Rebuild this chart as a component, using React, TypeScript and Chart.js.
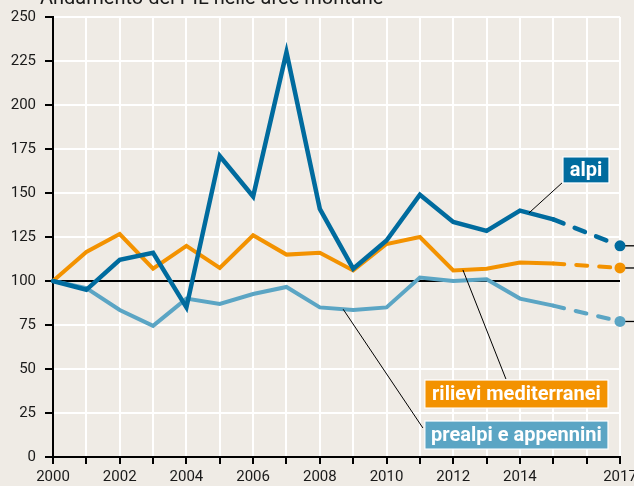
import React, { useEffect, useRef } from "react";
import { Chart, registerables } from "chart.js";

Chart.register(...registerables);

// ---- data ----
const years = [2000, 2001, 2002, 2003, 2004, 2005, 2006, 2007, 2008, 2009, 2010, 2011, 2012, 2013, 2014, 2015, 2017];
const alpi = [100, 95, 112, 116, 85, 171, 148, 230, 141, 107, 123, 149, 133.5, 128.5, 140, 135, 120];
const rilievi = [100, 116.5, 126.7, 107, 120, 107.4, 126, 115, 116, 106, 121, 125, 106, 107, 110.5, 110, 107.4];
const prealpi = [100, 96, 83.5, 74.5, 90, 87, 92.6, 96.6, 85, 83.5, 85, 102, 100, 101, 90, 86, 77];
const xLabelYears = [2000, 2002, 2004, 2006, 2008, 2010, 2012, 2014, 2017];
const seriesNames = ["alpi", "rilievi mediterranei", "prealpi e appennini"];
const titleText = "Andamento del PIL nelle aree montane";
const referenceValue = 100;

// ---- styles ----
const BG = "#EFEBE5";
const colors = ["#006B9E", "#F39200", "#5BA5C4"];
const widths = [4.5, 4, 4];
const TICK_FONT = "Roboto, sans-serif";

// label boxes in data coordinates (year, value)
const labelBoxes = [
  { series: 0, x0: 2015.29, x1: 2016.67, yTop: 170.5, yBottom: 155.7, from: 2014.27, to: [2015.26, 155.7] },
  { series: 1, x0: 2011.15, x1: 2016.64, yTop: 43.75, yBottom: 27.8, from: 2012.29, to: [2013.58, 44.3] },
  { series: 2, x0: 2011.15, x1: 2016.64, yTop: 20.45, yBottom: 4.5, from: 2008.7, to: [2011.09, 16.5] },
];

const seriesValues = [alpi, rilievi, prealpi];

function interp(vals: number[], yr: number): number {
  for (let i = 0; i < years.length - 1; i++) {
    if (yr >= years[i] && yr <= years[i + 1]) {
      const t = (yr - years[i]) / (years[i + 1] - years[i]);
      return vals[i] + t * (vals[i + 1] - vals[i]);
    }
  }
  return vals[vals.length - 1];
}

const decorPlugin = {
  id: "decor",
  beforeDraw(chart: any) {
    const { ctx, width, height } = chart;
    ctx.save();
    ctx.fillStyle = BG;
    ctx.fillRect(0, 0, width, height);
    ctx.restore();
  },
  beforeDatasetsDraw(chart: any) {
    const { ctx, chartArea, scales } = chart;
    const xs = scales.x;
    const ys = scales.y;
    ctx.save();
    ctx.strokeStyle = "#000";
    ctx.lineWidth = 1.8;
    ctx.beginPath();
    const y100 = ys.getPixelForValue(referenceValue);
    ctx.moveTo(chartArea.left, y100);
    ctx.lineTo(chartArea.right, y100);
    ctx.stroke();
    ctx.lineWidth = 1.3;
    seriesValues.forEach((vals) => {
      const last = vals.length - 1;
      const px = xs.getPixelForValue(years[last]);
      const py = ys.getPixelForValue(vals[last]);
      ctx.beginPath();
      ctx.moveTo(px, py);
      ctx.lineTo(chart.width, py);
      ctx.stroke();
    });
    ctx.restore();
  },
  afterDraw(chart: any) {
    const { ctx, scales } = chart;
    const xs = scales.x;
    const ys = scales.y;
    ctx.save();
    ctx.strokeStyle = "#000";
    ctx.lineWidth = 1;
    labelBoxes.forEach((b) => {
      const vals = seriesValues[b.series];
      ctx.beginPath();
      ctx.moveTo(xs.getPixelForValue(b.from), ys.getPixelForValue(interp(vals, b.from)));
      ctx.lineTo(xs.getPixelForValue(b.to[0]), ys.getPixelForValue(b.to[1]));
      ctx.stroke();
    });
    labelBoxes.forEach((b) => {
      const x0 = xs.getPixelForValue(b.x0);
      const x1 = xs.getPixelForValue(b.x1);
      const y0 = ys.getPixelForValue(b.yTop);
      const y1 = ys.getPixelForValue(b.yBottom);
      ctx.fillStyle = colors[b.series];
      ctx.fillRect(x0, y0, x1 - x0, y1 - y0);
      ctx.strokeStyle = "#ffffff";
      ctx.lineWidth = 1.2;
      ctx.strokeRect(x0, y0, x1 - x0, y1 - y0);
      ctx.fillStyle = "#ffffff";
      ctx.font = "bold 20px Roboto, sans-serif";
      ctx.textAlign = "center";
      ctx.textBaseline = "middle";
      ctx.fillText(seriesNames[b.series], (x0 + x1) / 2, (y0 + y1) / 2 + 1);
    });
    ctx.fillStyle = "#1a1a1a";
    ctx.font = "20px Roboto, sans-serif";
    ctx.textAlign = "left";
    ctx.textBaseline = "alphabetic";
    ctx.fillText(titleText, 40, 4);
    ctx.restore();
  },
};

export default function App() {
  const ref = useRef<HTMLCanvasElement | null>(null);
  useEffect(() => {
    if (!ref.current) return;
    const datasets = seriesValues.map((vals, i) => ({
      label: seriesNames[i],
      data: years.map((yr, j) => ({ x: yr, y: vals[j] })),
      borderColor: colors[i],
      backgroundColor: colors[i],
      borderWidth: widths[i],
      borderJoinStyle: "miter" as const,
      borderCapStyle: "round" as const,
      tension: 0,
      clip: false as const,
      pointRadius: (c: any) => (c.dataIndex === years.length - 1 ? 5.5 : 0),
      pointHoverRadius: 0,
      pointBorderWidth: 0,
      segment: {
        borderDash: (c: any) => (c.p1DataIndex === years.length - 1 ? [11, 12] : undefined),
      },
    }));
    const chart = new Chart(ref.current, {
      type: "line",
      data: { datasets },
      options: {
        animation: false,
        responsive: false,
        devicePixelRatio: 1,
        layout: { padding: { left: 0, right: 14, top: 17, bottom: 0 } },
        plugins: { legend: { display: false }, tooltip: { enabled: false } },
        scales: {
          x: {
            type: "linear",
            min: 2000,
            max: 2017,
            ticks: {
              stepSize: 1,
              autoSkip: false,
              maxRotation: 0,
              padding: 4,
              color: "#1a1a1a",
              font: { family: TICK_FONT, size: 15 },
              callback: (v: any) => (xLabelYears.includes(Number(v)) ? String(v) : ""),
            },
            grid: { color: "#ffffff", lineWidth: 2, tickColor: "#000", tickLength: 7, tickWidth: 2 },
            border: { color: "#000", width: 2 },
            afterFit: (s: any) => {
              s.height = 29;
              s.paddingLeft = 0;
              s.paddingRight = 0;
            },
          },
          y: {
            min: 0,
            max: 250,
            ticks: {
              stepSize: 25,
              padding: 9,
              color: "#1a1a1a",
              font: { family: TICK_FONT, size: 15 },
            },
            grid: { color: "#ffffff", lineWidth: 2, tickColor: "#000", tickLength: 8, tickWidth: 2 },
            border: { color: "#000", width: 2 },
            afterFit: (s: any) => {
              s.width = 53;
              s.paddingTop = 0;
              s.paddingBottom = 0;
            },
          },
        },
      },
      plugins: [decorPlugin],
    });
    return () => chart.destroy();
  }, []);
  return (
    <div style={{ position: "absolute", left: 0, top: 0, width: 634, height: 486 }}>
      <canvas ref={ref} width={634} height={486} style={{ width: 634, height: 486, display: "block" }} />
    </div>
  );
}
